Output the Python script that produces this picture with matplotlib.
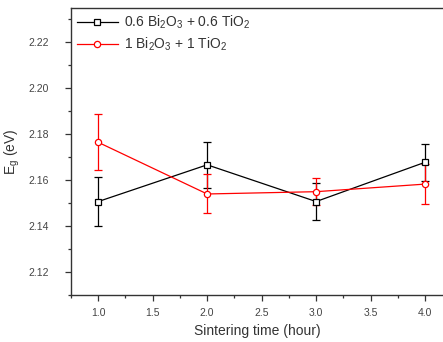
import matplotlib
matplotlib.use("Agg")
import matplotlib.pyplot as plt
from matplotlib.ticker import MultipleLocator

plt.rcParams['font.family'] = ['Liberation Sans', 'DejaVu Sans']
plt.rcParams['mathtext.default'] = 'regular'

# --- data ---
hours = [1.0, 2.0, 3.0, 4.0]
eg_06 = [2.1507, 2.1667, 2.1507, 2.1678]
err_06 = [0.0108, 0.0100, 0.0080, 0.0080]
eg_1 = [2.1765, 2.1540, 2.1550, 2.1583]
err_1 = [0.0122, 0.0085, 0.0060, 0.0087]
labels = ["0.6 Bi$_2$O$_3$ + 0.6 TiO$_2$", "1 Bi$_2$O$_3$ + 1 TiO$_2$"]

fig = plt.figure(figsize=(4.43, 3.42), dpi=100)
ax = fig.add_axes([71 / 443, 47 / 342, 372 / 443, 287 / 342])

ax.errorbar(hours, eg_06, yerr=err_06, color='black', lw=0.9, marker='s', ms=4,
            mfc='white', mec='black', mew=0.9, capsize=3, elinewidth=0.9,
            capthick=0.9, label=labels[0])
ax.errorbar(hours, eg_1, yerr=err_1, color='red', lw=0.9, marker='o', ms=4.5,
            mfc='white', mec='red', mew=0.9, capsize=3, elinewidth=0.9,
            capthick=0.9, label=labels[1])

ax.set_xlim(0.75, 4.165)
ax.set_ylim(2.11, 2.235)
ax.xaxis.set_major_locator(MultipleLocator(0.5))
ax.xaxis.set_minor_locator(MultipleLocator(0.25))
ax.yaxis.set_major_locator(MultipleLocator(0.02))
ax.yaxis.set_minor_locator(MultipleLocator(0.01))
ax.xaxis.set_major_formatter(plt.FormatStrFormatter('%.1f'))
ax.yaxis.set_major_formatter(plt.FormatStrFormatter('%.2f'))

ax.tick_params(which='both', direction='out', colors='#333333', labelsize=7.5,
               labelcolor='#444444')
ax.tick_params(which='major', length=4, width=0.9)
ax.tick_params(which='minor', length=2.5, width=0.9)
ax.tick_params(axis='y', which='major', pad=12)
ax.tick_params(axis='x', which='major', pad=5)
ax.tick_params(axis='x', which='both', top=False)
ax.tick_params(axis='y', which='both', right=False)
ax.spines['right'].set_visible(False)
for s in ['left', 'bottom', 'top']:
    ax.spines[s].set_linewidth(1.0)
    ax.spines[s].set_color('#333333')

ax.set_xlabel("Sintering time (hour)", fontsize=10, color='#333333', labelpad=5)
ax.set_ylabel("E$_g$ (eV)", fontsize=10, color='#333333')
ax.yaxis.set_label_coords(-0.132, 0.5)

handles, labs = ax.get_legend_handles_labels()
handles = [h[0] for h in handles]
ax.legend(handles, labs, loc='upper left', frameon=False, fontsize=10,
          handlelength=3.0, borderaxespad=0.1, borderpad=0.3, handletextpad=0.4,
          labelspacing=0.35, labelcolor='#333333')

fig.savefig("out.png", dpi=100)
